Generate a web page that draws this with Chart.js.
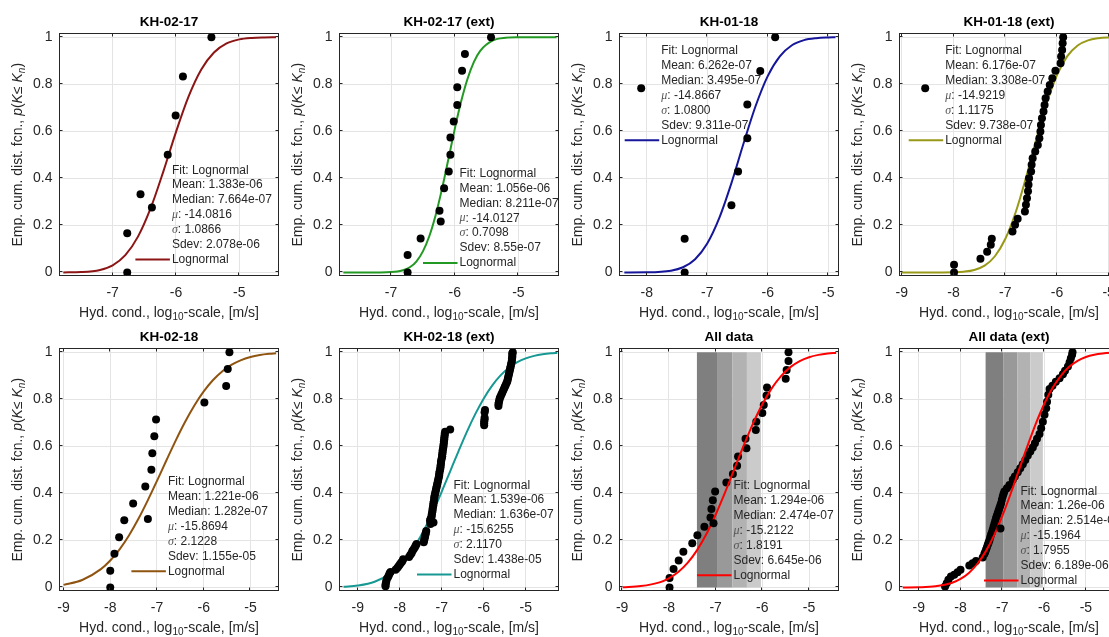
<!DOCTYPE html>
<html lang="en">
<head>
<meta charset="utf-8">
<title>Lognormal fits of hydraulic conductivity</title>
<script src="https://cdn.jsdelivr.net/npm/chart.js@4.4.1/dist/chart.umd.min.js"></script>
<style>
  html, body { margin: 0; padding: 0; background: #ffffff; overflow: hidden; }
  #figure { position: relative; width: 1109px; height: 637px; overflow: hidden; }
  #figure canvas { position: absolute; }
</style>
</head>
<body>
<div id="figure"></div>
<script>
// ========================================
// DATA (log10 hydraulic conductivity vs. cumulative probability)
// ========================================
const titles = ['KH-02-17', 'KH-02-17 (ext)', 'KH-01-18', 'KH-01-18 (ext)',
                'KH-02-18', 'KH-02-18 (ext)', 'All data', 'All data (ext)'];

const yTicks = [0, 0.2, 0.4, 0.6, 0.8, 1];
const xTicksShort = [-7, -6, -5];
const xTicksMid = [-8, -7, -6, -5];
const xTicksLong = [-9, -8, -7, -6, -5];

// grey bands shown in the "All data" panels
const bandEdges = [-7.40, -6.97, -6.64, -6.33, -6.03];

// KH-02-17
const kh0217FitX = [-7.78, -7.5, -7.2, -7.0, -6.8, -6.6, -6.4, -6.2, -6.0, -5.8, -5.6, -5.4, -5.2, -5.0, -4.8, -4.6, -4.42];
const kh0217FitY = [0.0002, 0.0017, 0.0108, 0.0305, 0.0735, 0.1523, 0.2733, 0.4290, 0.5968, 0.7483, 0.8628, 0.9352, 0.9738, 0.9910, 0.9973, 0.9993, 0.9998];
const kh0217PtsX = [-6.77, -6.77, -6.56, -6.13, -6.005, -5.89, -5.44];
const kh0217PtsY = [0, 0.167, 0.333, 0.5, 0.667, 0.833, 1];
const kh0217Stats = ['1.383e-06', '7.664e-07', '-14.0816', '1.0866', '2.078e-06'];

// KH-02-17 (ext)
const kh0217eFitX = [-7.75, -7.4, -7.2, -7.0, -6.9, -6.8, -6.7, -6.6, -6.5, -6.4, -6.3, -6.2, -6.1, -6.0, -5.9, -5.8, -5.7, -5.6, -5.4, -5.2, -5.0, -4.7, -4.4];
const kh0217eFitY = [0, 0, 0.0002, 0.0015, 0.0041, 0.0103, 0.0231, 0.0476, 0.0895, 0.1539, 0.2435, 0.3553, 0.4813, 0.6095, 0.7264, 0.8228, 0.8945, 0.9424, 0.9869, 0.9980, 0.9998, 1, 1];
const kh0217ePtsX = [-6.74, -6.74, -6.536, -6.22, -6.167, -6.094, -6.068, -6.068, -6.016, -5.96, -5.96, -5.885, -5.84, -5.43];
const kh0217ePtsY = [0, 0.074, 0.144, 0.217, 0.358, 0.429, 0.5, 0.574, 0.642, 0.712, 0.788, 0.858, 0.929, 1];
const kh0217eStats = ['1.056e-06', '8.211e-07', '-14.0127', '0.7098', '8.55e-07'];

// KH-01-18
const kh0118FitX = [-8.37, -8.0, -7.6, -7.4, -7.2, -7.0, -6.8, -6.6, -6.4, -6.2, -6.0, -5.8, -5.6, -5.4, -5.2, -5.0, -4.88];
const kh0118FitY = [0, 0.0005, 0.0074, 0.0221, 0.0565, 0.1232, 0.2320, 0.3798, 0.5481, 0.7078, 0.8350, 0.9192, 0.9661, 0.9879, 0.9963, 0.9991, 0.9997];
const kh0118PtsX = [-7.373, -7.373, -6.60, -6.49, -6.337, -6.337, -6.123, -5.877];
const kh0118PtsY = [0, 0.143, 0.286, 0.429, 0.571, 0.714, 0.857, 1];
const kh0118Stats = ['6.262e-07', '3.495e-07', '-14.8667', '1.0800', '9.311e-07'];

// KH-01-18 (ext)
const kh0118eFitX = [-9.0, -8.5, -8.0, -7.8, -7.6, -7.4, -7.2, -7.0, -6.8, -6.6, -6.4, -6.2, -6.0, -5.8, -5.6, -5.4, -5.2, -5.0, -4.82];
const kh0118eFitY = [0, 0, 0.0009, 0.0033, 0.0105, 0.0290, 0.0690, 0.1421, 0.2550, 0.4028, 0.5659, 0.7184, 0.8389, 0.9196, 0.9652, 0.9870, 0.9958, 0.9989, 0.9997];
const kh0118ePtsX = [-7.99, -7.99, -7.48, -7.35, -7.28, -7.26, -6.86, -6.81, -6.76, -6.62, -6.60, -6.58,
                     -6.56, -6.55, -6.54, -6.50, -6.49, -6.47, -6.42, -6.37, -6.34, -6.32, -6.31, -6.29,
                     -6.26, -6.24, -6.22, -6.18, -6.14, -6.09, -6.03, -5.93, -5.92, -5.90, -5.89, -5.88];
const kh0118ePtsY = [0, 0.033, 0.058, 0.088, 0.118, 0.143, 0.174, 0.203, 0.228, 0.259, 0.288, 0.316,
                     0.345, 0.373, 0.401, 0.429, 0.458, 0.486, 0.514, 0.542, 0.571, 0.599, 0.627, 0.656,
                     0.684, 0.712, 0.741, 0.769, 0.797, 0.826, 0.858, 0.889, 0.918, 0.946, 0.975, 1.0];
const kh0118eStats = ['6.176e-07', '3.308e-07', '-14.9219', '1.1175', '9.738e-07'];

// KH-02-18
const kh0218FitX = [-9.0, -8.6, -8.2, -8.0, -7.8, -7.6, -7.4, -7.2, -7.0, -6.8, -6.6, -6.4, -6.2, -6.0, -5.8, -5.6, -5.4, -5.2, -5.0, -4.8, -4.6, -4.45];
const kh0218FitY = [0.0111, 0.0319, 0.0780, 0.1147, 0.1623, 0.2212, 0.2908, 0.3692, 0.4534, 0.5398, 0.6244, 0.7033, 0.7737, 0.8334, 0.8820, 0.9194, 0.9472, 0.9668, 0.9799, 0.9884, 0.9935, 0.9960];
const kh0218PtsX = [-8.0, -8.0, -7.91, -7.81, -7.70, -7.51, -7.25, -7.12, -7.10, -7.057, -7.02, -5.986, -5.52, -5.486, -5.45];
const kh0218PtsY = [0, 0.071, 0.143, 0.214, 0.286, 0.357, 0.429, 0.5, 0.571, 0.643, 0.714, 0.786, 0.857, 0.929, 1];
const kh0218Stats = ['1.221e-06', '1.282e-07', '-15.8694', '2.1228', '1.155e-05'];

// KH-02-18 (ext)
const kh0218eFitX = [-9.34, -9.0, -8.6, -8.2, -8.0, -7.8, -7.6, -7.4, -7.2, -7.0, -6.8, -6.6, -6.4, -6.2, -6.0, -5.8, -5.6, -5.4, -5.2, -5.0, -4.8, -4.6, -4.4, -4.25];
const kh0218eFitY = [0.0027, 0.0080, 0.0243, 0.0620, 0.0934, 0.1350, 0.1881, 0.2521, 0.3264, 0.4079, 0.4940, 0.5800, 0.6628, 0.7379, 0.8037, 0.8582, 0.9015, 0.9341, 0.9577, 0.9740, 0.9846, 0.9913, 0.9953, 0.9970];
const kh0218ePtsX = [-8.34, -8.34, -8.33, -8.32, -8.31, -8.28, -8.26, -8.24, -8.22,
                     -8.10, -8.06, -8.03, -8.00, -7.97, -7.94, -7.92,
                     -7.78, -7.75, -7.72, -7.70, -7.67, -7.64, -7.62, -7.60,
                     -7.43, -7.42, -7.41, -7.40, -7.39, -7.38, -7.37,
                     -7.27, -7.27, -7.28, -7.26, -7.24, -7.24, -7.23, -7.22, -7.22, -7.21,
                     -7.20, -7.20, -7.19, -7.18, -7.18, -7.17, -7.16, -7.15, -7.14, -7.13,
                     -7.12, -7.11, -7.10, -7.09, -7.08, -7.07, -7.06, -7.06, -7.05, -7.04,
                     -7.03, -7.03, -7.02, -7.02, -7.01, -7.00, -6.99, -6.99, -6.98, -6.98,
                     -6.97, -6.96, -6.96, -6.95, -6.95, -6.94, -6.94, -6.93, -6.93, -6.92,
                     -6.80,
                     -5.99, -5.99, -5.99, -5.98, -5.98, -5.98, -5.97,
                     -5.65, -5.65, -5.64, -5.63, -5.62, -5.60, -5.58, -5.56, -5.54, -5.52, -5.50, -5.48, -5.46, -5.44,
                     -5.43, -5.42, -5.41, -5.40, -5.39, -5.38, -5.37, -5.36, -5.35, -5.34, -5.33, -5.33, -5.32, -5.32, -5.32, -5.31];
const kh0218ePtsY = [0.005, 0.012, 0.020, 0.028, 0.036, 0.044, 0.052, 0.060, 0.066,
                     0.075, 0.083, 0.090, 0.098, 0.105, 0.112, 0.120,
                     0.130, 0.138, 0.146, 0.155, 0.163, 0.171, 0.178, 0.185,
                     0.192, 0.200, 0.208, 0.216, 0.224, 0.232, 0.240,
                     0.270, 0.278, 0.286, 0.294, 0.302, 0.310, 0.318, 0.326, 0.334, 0.342,
                     0.350, 0.358, 0.366, 0.374, 0.382, 0.390, 0.398, 0.406, 0.414, 0.422,
                     0.430, 0.438, 0.446, 0.454, 0.462, 0.470, 0.478, 0.486, 0.494, 0.502,
                     0.510, 0.518, 0.526, 0.534, 0.542, 0.550, 0.558, 0.566, 0.574, 0.582,
                     0.590, 0.598, 0.606, 0.614, 0.622, 0.630, 0.638, 0.646, 0.654, 0.662,
                     0.672,
                     0.690, 0.698, 0.706, 0.714, 0.722, 0.745, 0.755,
                     0.772, 0.780, 0.788, 0.796, 0.804, 0.812, 0.820, 0.828, 0.836, 0.844, 0.852, 0.860, 0.868, 0.876,
                     0.884, 0.892, 0.900, 0.908, 0.916, 0.924, 0.932, 0.940, 0.948, 0.956, 0.964, 0.972, 0.980, 0.988, 0.996, 1.000];
const kh0218eStats = ['1.539e-06', '1.636e-07', '-15.6255', '2.1170', '1.438e-05'];

// All data
const allFitX = [-8.99, -8.6, -8.2, -8.0, -7.8, -7.6, -7.4, -7.2, -7.0, -6.8, -6.6, -6.4, -6.2, -6.0, -5.8, -5.6, -5.4, -5.2, -5.0, -4.8, -4.6, -4.42];
const allFitY = [0.0012, 0.0058, 0.0218, 0.0389, 0.0654, 0.1042, 0.1577, 0.2263, 0.3092, 0.4032, 0.5032, 0.6030, 0.6967, 0.7787, 0.8464, 0.8987, 0.9367, 0.9625, 0.9790, 0.9889, 0.9945, 0.9972];
const allPtsX = [-7.986, -7.986, -7.90, -7.79, -7.69, -7.50, -7.39, -7.24, -7.11, -7.09, -7.06, -7.01, -6.77, -6.63,
                 -6.54, -6.52, -6.34, -6.36, -6.14, -6.13, -6.00, -5.97, -5.91, -5.90, -5.50, -5.48, -5.44, -5.44];
const allPtsY = [0, 0.040, 0.079, 0.115, 0.152, 0.188, 0.222, 0.258, 0.297, 0.334, 0.371, 0.408, 0.446, 0.482,
                 0.518, 0.557, 0.592, 0.632, 0.669, 0.705, 0.742, 0.776, 0.816, 0.850, 0.887, 0.925, 0.963, 1.0];
const allStats = ['1.294e-06', '2.474e-07', '-15.2122', '1.8191', '6.645e-06'];

// All data (ext)
const alleFitX = [-9.38, -9.0, -8.6, -8.2, -8.0, -7.8, -7.6, -7.4, -7.2, -7.0, -6.8, -6.6, -6.4, -6.2, -6.0, -5.8, -5.6, -5.4, -5.2, -5.0, -4.8, -4.6, -4.4, -4.25];
const alleFitY = [0.0002, 0.0010, 0.0052, 0.0201, 0.0363, 0.0619, 0.0998, 0.1524, 0.2207, 0.3040, 0.3986, 0.4998, 0.6010, 0.6960, 0.7791, 0.8476, 0.9001, 0.9381, 0.9637, 0.9799, 0.9895, 0.9948, 0.9976, 0.9987];
const allePtsX = [-8.37, -8.33, -8.29, -8.23, -8.15, -8.07, -8.00, -7.79, -7.71, -7.63, -7.47, -7.43,
                  -7.41, -7.39, -7.37, -7.35, -7.33, -7.31, -7.29, -7.27, -7.25, -7.23, -7.21, -7.19,
                  -7.17, -7.15, -7.13, -7.11, -7.09, -7.07, -7.05, -7.03, -7.01, -6.99, -6.97, -6.95,
                  -6.89, -6.83, -6.75, -6.70, -6.63, -6.57, -6.51, -6.45, -6.39, -6.33, -6.27, -6.22,
                  -6.17, -6.11, -6.07, -6.03, -5.99, -5.95, -5.93, -5.90, -5.87, -5.80, -5.72, -5.63,
                  -5.55, -5.50, -5.43, -5.39, -5.36, -5.33, -5.32];
const allePtsY = [0.004, 0.018, 0.033, 0.047, 0.054, 0.065, 0.075, 0.093, 0.103, 0.113, 0.127, 0.142,
                  0.151, 0.160, 0.170, 0.181, 0.190, 0.200, 0.212, 0.224, 0.234, 0.245, 0.258, 0.270,
                  0.283, 0.295, 0.305, 0.316, 0.326, 0.337, 0.347, 0.358, 0.373, 0.387, 0.398, 0.408,
                  0.422, 0.436, 0.458, 0.472, 0.490, 0.507, 0.524, 0.542, 0.561, 0.578, 0.595, 0.613,
                  0.632, 0.652, 0.677, 0.705, 0.734, 0.762, 0.790, 0.819, 0.844, 0.858, 0.875, 0.890,
                  0.906, 0.921, 0.939, 0.958, 0.975, 0.989, 1.000];
const alleStats = ['1.26e-06', '2.514e-07', '-15.1964', '1.7955', '6.189e-06'];

// ========================================
// LAYOUT / STYLE
// ========================================
const FONT = '"Liberation Sans", Arial, Helvetica, sans-serif';
const SERIF = '"Liberation Serif", "Times New Roman", serif';
const TEXT_COLOR = '#262626';
const GRID_COLOR = '#e4e4e4';
const BAND_COLORS = ['#7f7f7f', '#999999', '#b2b2b2', '#cbcbcb'];

const COL_STEP = 280;
const CANVAS_W = 300;          // wider than a column so long legend text is not clipped
const CANVAS_H = 320;
const ROW_STEP = 315;
const AREA_TOP = 33.5;
const AREA_BOTTOM = 276;
const DOT_R = 4;
const NOTE_FONT = 12;

const panels = [
    { fitX: kh0217FitX, fitY: kh0217FitY, ptsX: kh0217PtsX, ptsY: kh0217PtsY, stats: kh0217Stats,
      xMin: -7.84, xMax: -4.38, xTicks: xTicksShort, color: '#8c1515', legend: [112.4, 136.7] },
    { fitX: kh0217eFitX, fitY: kh0217eFitY, ptsX: kh0217ePtsX, ptsY: kh0217ePtsY, stats: kh0217eStats,
      xMin: -7.81, xMax: -4.37, xTicks: xTicksShort, color: '#229922', legend: [120, 140] },
    { fitX: kh0118FitX, fitY: kh0118FitY, ptsX: kh0118PtsX, ptsY: kh0118PtsY, stats: kh0118Stats,
      xMin: -8.45, xMax: -4.83, xTicks: xTicksMid, color: '#16169a', legend: [41.7, 17.4] },
    { fitX: kh0118eFitX, fitY: kh0118eFitY, ptsX: kh0118ePtsX, ptsY: kh0118ePtsY, stats: kh0118eStats,
      xMin: -9.045, xMax: -4.81, xTicks: xTicksLong, color: '#999918', legend: [45.7, 17.4] },
    { fitX: kh0218FitX, fitY: kh0218FitY, ptsX: kh0218PtsX, ptsY: kh0218PtsY, stats: kh0218Stats,
      xMin: -9.086, xMax: -4.40, xTicks: xTicksLong, color: '#8f5410', legend: [108.4, 133.3] },
    { fitX: kh0218eFitX, fitY: kh0218eFitY, ptsX: kh0218ePtsX, ptsY: kh0218ePtsY, stats: kh0218eStats,
      xMin: -9.436, xMax: -4.22, xTicks: xTicksLong, color: '#169893', legend: [114, 136.7] },
    { fitX: allFitX, fitY: allFitY, ptsX: allPtsX, ptsY: allPtsY, stats: allStats,
      xMin: -9.057, xMax: -4.37, xTicks: xTicksLong, color: '#ff0000', legend: [114, 137.4],
      bands: true, lineOnTop: true },
    { fitX: alleFitX, fitY: alleFitY, ptsX: allePtsX, ptsY: allePtsY, stats: alleStats,
      xMin: -9.46, xMax: -4.22, xTicks: xTicksLong, color: '#ff0000', legend: [121, 142.7],
      bands: true, lineOnTop: true }
];

// ========================================
// HELPERS
// ========================================
// Draw text made of runs with different fonts, centred on (cx, cy)
const drawRuns = (ctx, runs, cx, cy) => {
    let total = 0;
    runs.forEach(r => {
        ctx.font = r.font;
        r.w = ctx.measureText(r.text).width;
        total += r.w;
    });
    let x = cx - total / 2;
    ctx.textAlign = 'left';
    ctx.textBaseline = 'middle';
    runs.forEach(r => {
        ctx.font = r.font;
        ctx.fillText(r.text, x, cy + (r.dy || 0));
        x += r.w;
    });
};

const decorPlugin = (p, title) => ({
    id: 'decor',
    beforeDatasetsDraw(chart) {
        if (!p.bands) return;
        const { ctx, scales: { x, y } } = chart;
        ctx.save();
        const top = y.getPixelForValue(1);
        const bottom = y.getPixelForValue(0);
        for (let i = 0; i < bandEdges.length - 1; i++) {
            const x0 = x.getPixelForValue(bandEdges[i]);
            const x1 = x.getPixelForValue(bandEdges[i + 1]);
            ctx.fillStyle = BAND_COLORS[i];
            ctx.fillRect(x0, top, x1 - x0, bottom - top);
        }
        ctx.restore();
    },
    afterDatasetsDraw(chart) {
        const { ctx, chartArea: ca, scales: { x, y } } = chart;
        const l = Math.round(ca.left) - 0.5, r = Math.round(ca.right) - 0.5;
        const t = Math.round(ca.top) - 0.5, b = Math.round(ca.bottom) - 0.5;
        ctx.save();
        ctx.strokeStyle = TEXT_COLOR;
        ctx.lineWidth = 1;
        ctx.beginPath();
        // inward tick marks on all four sides
        p.xTicks.forEach(v => {
            const px = Math.round(x.getPixelForValue(v)) - 0.5;
            ctx.moveTo(px, b); ctx.lineTo(px, b - 3);
            ctx.moveTo(px, t); ctx.lineTo(px, t + 3);
        });
        yTicks.forEach(v => {
            const py = Math.round(y.getPixelForValue(v)) - 0.5;
            ctx.moveTo(l, py); ctx.lineTo(l + 3, py);
            ctx.moveTo(r, py); ctx.lineTo(r - 3, py);
        });
        ctx.stroke();
        ctx.strokeRect(l, t, r - l, b - t);
        ctx.restore();
    },
    afterDraw(chart) {
        const { ctx, chartArea: ca } = chart;
        const cx = (ca.left + ca.right) / 2;
        ctx.save();
        ctx.fillStyle = '#000000';

        // Title
        ctx.font = 'bold 13.5px ' + FONT;
        ctx.textAlign = 'center';
        ctx.textBaseline = 'middle';
        ctx.fillText(title, cx, 22.5);

        // X axis label
        ctx.fillStyle = TEXT_COLOR;
        drawRuns(ctx, [
            { text: 'Hyd. cond., log', font: '14px ' + FONT },
            { text: '10', font: '10px ' + FONT, dy: 4 },
            { text: '-scale, [m/s]', font: '14px ' + FONT }
        ], cx, 313);

        // Y axis label (rotated)
        ctx.save();
        ctx.translate(18.5, (ca.top + ca.bottom) / 2);
        ctx.rotate(-Math.PI / 2);
        drawRuns(ctx, [
            { text: 'Emp. cum. dist. fcn., ', font: '14px ' + FONT },
            { text: 'p', font: 'italic 14px ' + FONT },
            { text: '(', font: '14px ' + FONT },
            { text: 'K', font: 'italic 14px ' + FONT },
            { text: '\u2264 ', font: '14px ' + FONT },
            { text: 'K', font: 'italic 14px ' + FONT },
            { text: 'n', font: 'italic 10px ' + FONT, dy: 4 },
            { text: ')', font: '14px ' + FONT }
        ], 0, 0);
        ctx.restore();

        // Legend with fit statistics
        const lx = ca.left + p.legend[0];
        const ly = ca.top + p.legend[1];
        const step = 14.9;
        const s = p.stats;
        const rows = [
            [['Fit: Lognormal', FONT]],
            [['Mean: ' + s[0], FONT]],
            [['Median: ' + s[1], FONT]],
            [['\u03bc', 'italic', SERIF], [': ' + s[2], FONT]],
            [['\u03c3', 'italic', SERIF], [': ' + s[3], FONT]],
            [['Sdev: ' + s[4], FONT]]
        ];
        ctx.textAlign = 'left';
        ctx.textBaseline = 'middle';
        rows.forEach((row, i) => {
            let x = lx;
            row.forEach(part => {
                if (part.length === 3) {
                    ctx.font = 'italic ' + NOTE_FONT + 'px ' + part[2];
                    ctx.fillStyle = '#555555';
                } else {
                    ctx.font = NOTE_FONT + 'px ' + part[1];
                    ctx.fillStyle = TEXT_COLOR;
                }
                ctx.fillText(part[0], x, ly + i * step);
                x += ctx.measureText(part[0]).width;
            });
        });
        // marker sample
        ctx.fillStyle = '#000000';
        ctx.beginPath();
        ctx.arc(lx - 20, ly + 2.5 * step, DOT_R, 0, Math.PI * 2);
        ctx.fill();
        // line sample
        ctx.strokeStyle = p.color;
        ctx.lineWidth = 2;
        ctx.beginPath();
        ctx.moveTo(lx - 36.5, ly + 6 * step);
        ctx.lineTo(lx - 2, ly + 6 * step);
        ctx.stroke();
        ctx.fillStyle = TEXT_COLOR;
        ctx.font = NOTE_FONT + 'px ' + FONT;
        ctx.fillText('Lognormal', lx, ly + 6 * step);
        ctx.restore();
    }
});

// ========================================
// CHART INITIALIZATION
// ========================================
document.addEventListener('DOMContentLoaded', () => {
    Chart.defaults.font.family = FONT;
    Chart.defaults.color = TEXT_COLOR;
    const figure = document.getElementById('figure');

    panels.forEach((p, idx) => {
        const col = idx % 4;
        const row = Math.floor(idx / 4);
        const canvas = document.createElement('canvas');
        canvas.width = CANVAS_W;
        canvas.height = CANVAS_H;
        canvas.style.left = (col * COL_STEP) + 'px';
        canvas.style.top = (row * ROW_STEP) + 'px';
        figure.appendChild(canvas);

        const fitData = p.fitX.map((x, i) => ({ x, y: p.fitY[i] }));
        const ptsData = p.ptsX.map((x, i) => ({ x, y: p.ptsY[i] }));

        new Chart(canvas.getContext('2d'), {
            type: 'scatter',
            data: {
                datasets: [{
                    label: 'Lognormal',
                    data: fitData,
                    showLine: true,
                    borderColor: p.color,
                    borderWidth: 2,
                    pointRadius: 0,
                    cubicInterpolationMode: 'monotone',
                    fill: false,
                    order: p.lineOnTop ? 0 : 1
                }, {
                    label: 'Data',
                    data: ptsData,
                    pointRadius: DOT_R,
                    pointBackgroundColor: '#000000',
                    pointBorderColor: '#000000',
                    pointBorderWidth: 0,
                    order: p.lineOnTop ? 1 : 0
                }]
            },
            options: {
                responsive: false,
                animation: false,
                events: [],
                layout: {
                    padding: { left: 9.5, right: CANVAS_W - COL_STEP + 1.5, top: AREA_TOP, bottom: 0 }
                },
                plugins: {
                    legend: { display: false },
                    title: { display: false },
                    tooltip: { enabled: false }
                },
                scales: {
                    x: {
                        type: 'linear',
                        min: p.xMin,
                        max: p.xMax,
                        afterBuildTicks: s => { s.ticks = p.xTicks.map(v => ({ value: v })); },
                        afterFit: s => {
                            s.height = CANVAS_H - AREA_BOTTOM;
                            // keep the plot box fixed even when an end label sits near the edge
                            s.paddingLeft = 0;
                            s.paddingRight = 0;
                        },
                        grid: { color: GRID_COLOR, drawTicks: false },
                        border: { display: false },
                        ticks: {
                            autoSkip: false,
                            maxRotation: 0,
                            padding: 9,
                            color: TEXT_COLOR,
                            font: { family: FONT, size: 14 },
                            callback: v => String(v)
                        }
                    },
                    y: {
                        type: 'linear',
                        min: -0.015,
                        max: 1.016,
                        afterBuildTicks: s => { s.ticks = yTicks.map(v => ({ value: v })); },
                        afterFit: s => {
                            s.width = 50;
                            s.paddingTop = 0;
                            s.paddingBottom = 0;
                        },
                        grid: { color: GRID_COLOR, drawTicks: false },
                        border: { display: false },
                        ticks: {
                            autoSkip: false,
                            padding: 7,
                            color: TEXT_COLOR,
                            font: { family: FONT, size: 14 },
                            callback: v => String(Math.round(v * 10) / 10)
                        }
                    }
                }
            },
            plugins: [decorPlugin(p, titles[idx])]
        });
    });
});
</script>
</body>
</html>
